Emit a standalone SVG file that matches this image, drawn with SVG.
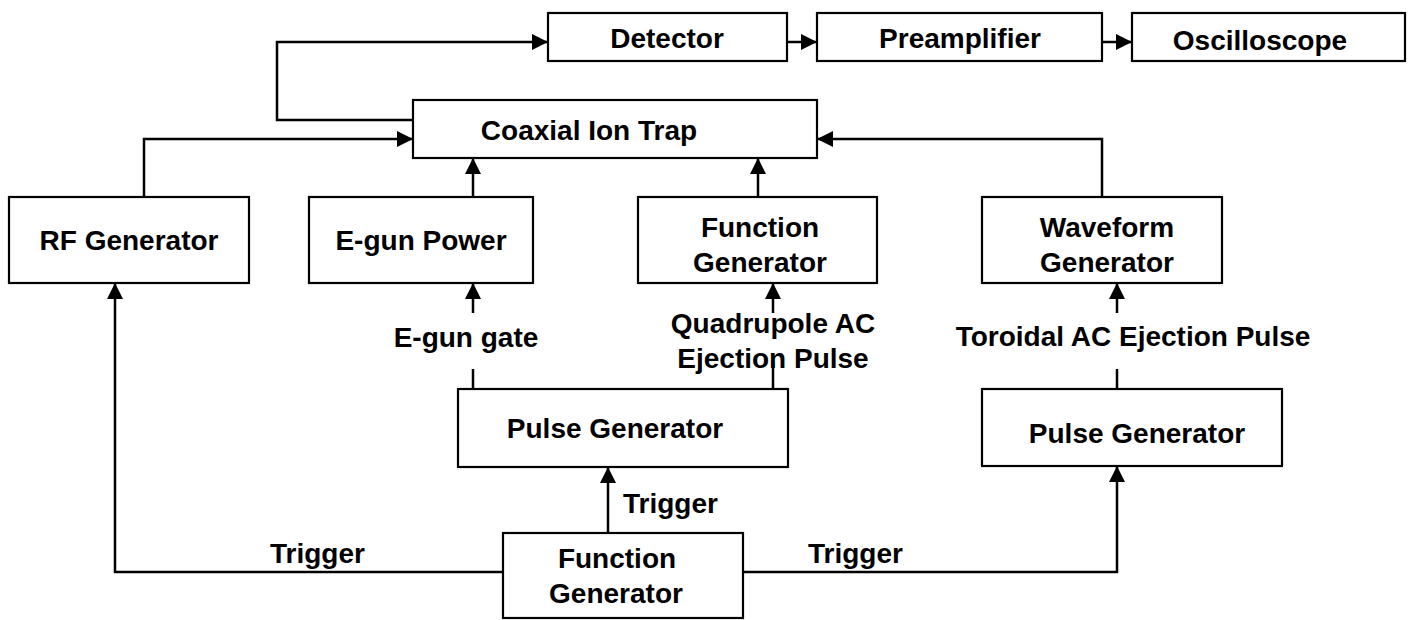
<svg xmlns="http://www.w3.org/2000/svg" width="1410" height="620" viewBox="0 0 1410 620">
<style>
.box{fill:#fff;stroke:#000;stroke-width:2.2}
.t{font-family:"Liberation Sans",Arial,sans-serif;font-weight:bold;font-size:28px;fill:#000;text-anchor:middle}
.ts{font-family:"Liberation Sans",Arial,sans-serif;font-weight:bold;font-size:28px;fill:#000}
.c{fill:none;stroke:#000;stroke-width:2.5}
.ca{fill:none;stroke:#000;stroke-width:2.5;marker-end:url(#ah)}
</style>
<defs>
<marker id="ah" markerUnits="userSpaceOnUse" markerWidth="16" markerHeight="16" refX="16" refY="8" orient="auto">
<path d="M0,0 L16,8 L0,16 z" fill="#000"/>
</marker>
</defs>
<rect width="1410" height="620" fill="#fff"/>
<g id="connectors">
<polyline class="ca" points="413,120 277,120 277,42 548,42"/>
<line class="ca" x1="787" y1="42" x2="817" y2="42"/>
<line class="ca" x1="1102" y1="42" x2="1132" y2="42"/>
<polyline class="ca" points="144,197 144,139 413,139"/>
<line class="ca" x1="473" y1="197" x2="473" y2="158"/>
<line class="ca" x1="758" y1="197" x2="758" y2="158"/>
<polyline class="ca" points="1102,197 1102,139 817,139"/>
<line class="ca" x1="473" y1="313" x2="473" y2="283"/>
<line class="c" x1="473" y1="369" x2="473" y2="389"/>
<line class="ca" x1="773" y1="313" x2="773" y2="283"/>
<line class="c" x1="773" y1="362" x2="773" y2="389"/>
<line class="ca" x1="1117" y1="313" x2="1117" y2="283"/>
<line class="c" x1="1117" y1="369" x2="1117" y2="389"/>
<line class="ca" x1="608" y1="533" x2="608" y2="467"/>
<polyline class="ca" points="503,572 115,572 115,283"/>
<polyline class="ca" points="743,572 1117,572 1117,466"/>
<text class="t" x="466" y="347">E-gun gate</text>
<text class="t" x="773" y="333">Quadrupole AC</text>
<text class="t" x="773" y="368">Ejection Pulse</text>
<text class="t" x="1133" y="346">Toroidal AC Ejection Pulse</text>
<text class="ts" x="623" y="513">Trigger</text>
<text class="ts" x="270" y="563">Trigger</text>
<text class="ts" x="808" y="563">Trigger</text>
</g>
<g id="detector">
<rect class="box" x="548" y="13" width="239" height="48"/>
<text class="t" x="667" y="48">Detector</text>
</g>
<g id="preamplifier">
<rect class="box" x="817" y="13" width="285" height="48"/>
<text class="t" x="960" y="48">Preamplifier</text>
</g>
<g id="oscilloscope">
<rect class="box" x="1132" y="13" width="273" height="48"/>
<text class="t" x="1260" y="50">Oscilloscope</text>
</g>
<g id="coaxial-ion-trap">
<rect class="box" x="413" y="100" width="404" height="58"/>
<text class="t" x="589" y="140">Coaxial Ion Trap</text>
</g>
<g id="rf-generator">
<rect class="box" x="9" y="197" width="240" height="86"/>
<text class="t" x="129" y="250">RF Generator</text>
</g>
<g id="egun-power">
<rect class="box" x="309" y="197" width="224" height="86"/>
<text class="t" x="421" y="250">E-gun Power</text>
</g>
<g id="function-generator-1">
<rect class="box" x="638" y="197" width="239" height="86"/>
<text class="t" x="760" y="237">Function</text>
<text class="t" x="760" y="272">Generator</text>
</g>
<g id="waveform-generator">
<rect class="box" x="982" y="197" width="240" height="86"/>
<text class="t" x="1107" y="237">Waveform</text>
<text class="t" x="1107" y="272">Generator</text>
</g>
<g id="pulse-generator-1">
<rect class="box" x="458" y="389" width="330" height="78"/>
<text class="t" x="615" y="438">Pulse Generator</text>
</g>
<g id="pulse-generator-2">
<rect class="box" x="982" y="389" width="300" height="77"/>
<text class="t" x="1137" y="443">Pulse Generator</text>
</g>
<g id="function-generator-2">
<rect class="box" x="503" y="533" width="240" height="85"/>
<text class="t" x="617" y="568">Function</text>
<text class="t" x="616" y="603">Generator</text>
</g>
</svg>
